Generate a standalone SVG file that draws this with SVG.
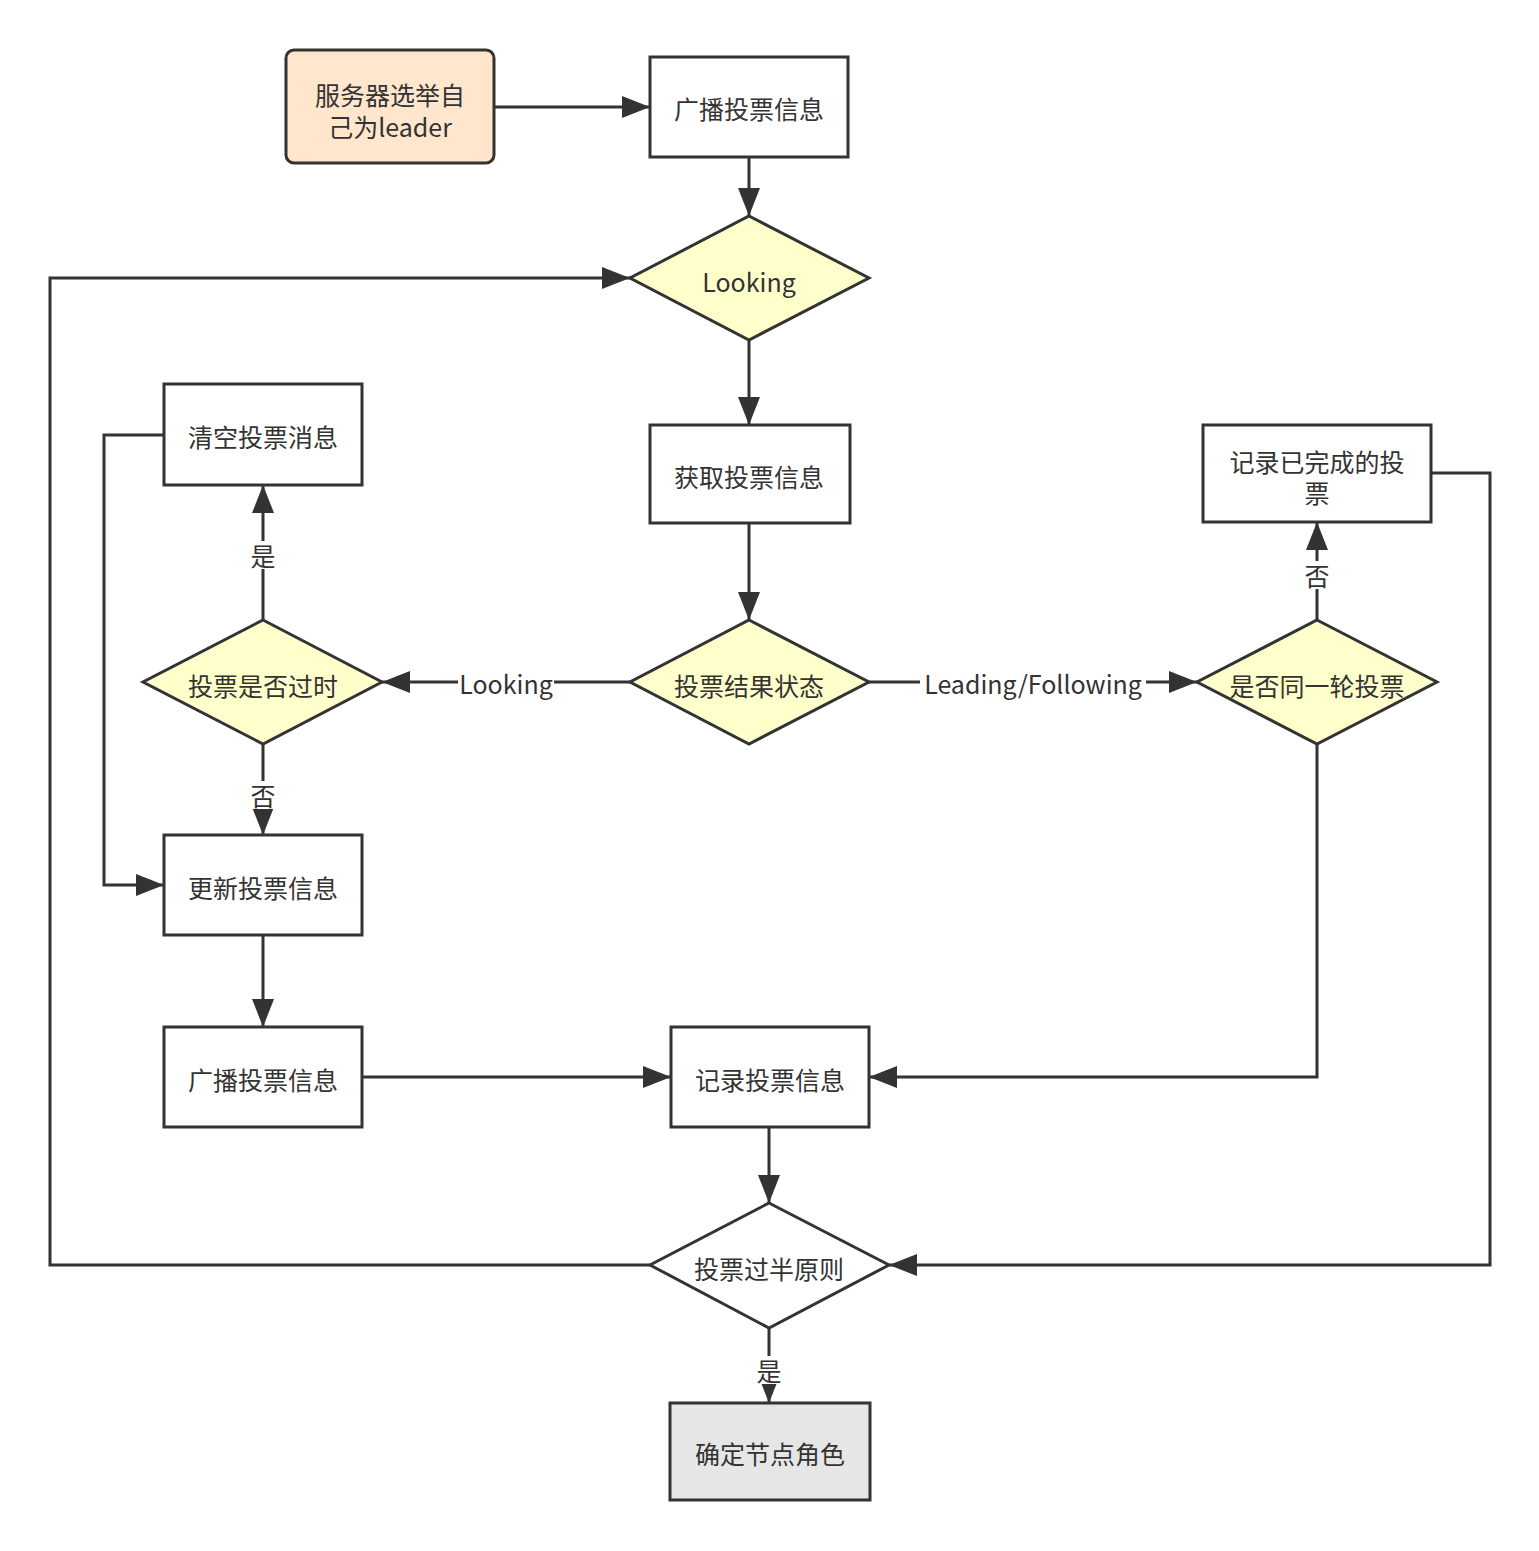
<svg xmlns="http://www.w3.org/2000/svg" width="1539" height="1551" viewBox="0 0 1539 1551">
<defs>
<marker id="ah" markerUnits="userSpaceOnUse" markerWidth="30" markerHeight="24" refX="28" refY="11" orient="auto">
<path d="M0,0 L28,11 L0,22 Z" fill="#333"/>
</marker>
<style>
.n{stroke:#333;stroke-width:3;fill:#fff}
.d{stroke:#333;stroke-width:3;fill:#ffffcc}
.t{font-family:"Microsoft YaHei","Noto Sans CJK SC",sans-serif;font-size:25px;fill:#333;text-anchor:middle;dominant-baseline:central}
.e{stroke:#333;stroke-width:3;fill:none;marker-end:url(#ah)}
.lb{fill:#fff}
</style>
</defs>
<rect width="1539" height="1551" fill="#fff"/>
<g id="connectors">
<path class="e" d="M494,107 L650,107"/>
<path class="e" d="M749,157 L749,216"/>
<path class="e" d="M749,340 L749,425"/>
<path class="e" d="M749,523 L749,620"/>
<path class="e" d="M630,682 L382,682"/>
<path class="e" d="M869,682 L1197,682"/>
<path class="e" d="M263,620 L263,485"/>
<path class="e" d="M263,744 L263,835"/>
<path class="e" d="M164,435 L104,435 L104,885 L164,885"/>
<path class="e" d="M263,935 L263,1027"/>
<path class="e" d="M362,1077 L671,1077"/>
<path class="e" d="M1317,744 L1317,1077 L869,1077"/>
<path class="e" d="M1317,620 L1317,522"/>
<path class="e" d="M1431,473 L1490,473 L1490,1265 L889,1265"/>
<path class="e" d="M769,1127 L769,1203"/>
<path class="e" d="M650,1265 L50,1265 L50,278 L630,278"/>
<path class="e" d="M769,1328 L769,1403"/>
<rect class="lb" x="458" y="670" width="96" height="28"/>
<text class="t" x="506" y="683">Looking</text>
<rect class="lb" x="920" y="670" width="226" height="28"/>
<text class="t" x="1033" y="683">Leading/Following</text>
<rect class="lb" x="249" y="541" width="28" height="28"/>
<text class="t" x="263" y="555">是</text>
<rect class="lb" x="249" y="781" width="28" height="28"/>
<text class="t" x="263" y="795">否</text>
<rect class="lb" x="1303" y="561" width="28" height="28"/>
<text class="t" x="1317" y="575">否</text>
<rect class="lb" x="755" y="1356" width="28" height="28"/>
<text class="t" x="769" y="1370">是</text>
</g>
<g id="start">
<rect x="286" y="50" width="208" height="113" rx="8" fill="#ffe6cc" stroke="#333" stroke-width="3"/>
<text class="t" x="390" y="94">服务器选举自</text>
<text class="t" x="390" y="126">己为leader</text>
</g>
<g id="broadcast1">
<rect class="n" x="650" y="57" width="198" height="100"/>
<text class="t" x="749" y="108">广播投票信息</text>
</g>
<g id="looking">
<polygon class="d" points="749,216 869,278 749,340 630,278"/>
<text class="t" x="749" y="281">Looking</text>
</g>
<g id="fetch">
<rect class="n" x="650" y="425" width="200" height="98"/>
<text class="t" x="749" y="476">获取投票信息</text>
</g>
<g id="status">
<polygon class="d" points="749,620 869,682 749,744 630,682"/>
<text class="t" x="749" y="685">投票结果状态</text>
</g>
<g id="clear">
<rect class="n" x="164" y="384" width="198" height="101"/>
<text class="t" x="263" y="436">清空投票消息</text>
</g>
<g id="outdated">
<polygon class="d" points="263,620 382,682 263,744 143,682"/>
<text class="t" x="263" y="685">投票是否过时</text>
</g>
<g id="update">
<rect class="n" x="164" y="835" width="198" height="100"/>
<text class="t" x="263" y="887">更新投票信息</text>
</g>
<g id="broadcast2">
<rect class="n" x="164" y="1027" width="198" height="100"/>
<text class="t" x="263" y="1079">广播投票信息</text>
</g>
<g id="record">
<rect class="n" x="671" y="1027" width="198" height="100"/>
<text class="t" x="770" y="1079">记录投票信息</text>
</g>
<g id="majority">
<polygon fill="#fff" stroke="#333" stroke-width="3" points="769,1203 889,1265 769,1328 650,1265"/>
<text class="t" x="769" y="1268">投票过半原则</text>
</g>
<g id="role">
<rect x="670" y="1403" width="200" height="97" fill="#e6e6e6" stroke="#333" stroke-width="3"/>
<text class="t" x="770" y="1453">确定节点角色</text>
</g>
<g id="recordDone">
<rect class="n" x="1203" y="425" width="228" height="97"/>
<text class="t" x="1317" y="461">记录已完成的投</text>
<text class="t" x="1317" y="492">票</text>
</g>
<g id="sameRound">
<polygon class="d" points="1317,620 1437,682 1317,744 1197,682"/>
<text class="t" x="1317" y="685">是否同一轮投票</text>
</g>
</svg>
